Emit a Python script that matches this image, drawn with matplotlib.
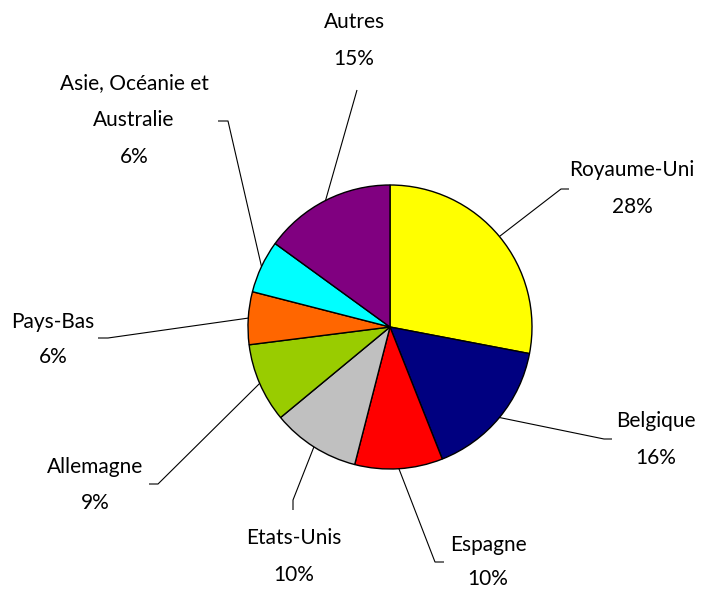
import numpy as np
import matplotlib
matplotlib.use("Agg")
import matplotlib.pyplot as plt

categories = ["Royaume-Uni", "Belgique", "Espagne", "Etats-Unis", "Allemagne",
              "Pays-Bas", "Asie, Océanie et\nAustralie", "Autres"]
values = [28, 16, 10, 10, 9, 6, 6, 15]
colors = ["#FFFF00", "#000080", "#FF0000", "#C0C0C0", "#99CC00",
          "#FF6600", "#00FFFF", "#800080"]

W, H = 708, 590
fig = plt.figure(figsize=(W / 100, H / 100), dpi=100)
ax = fig.add_axes([0, 0, 1, 1])

cx, cy, R = 390, H - 327, 142
ax.pie(values, colors=colors, startangle=90, counterclock=False,
       center=(cx, cy), radius=R,
       wedgeprops=dict(edgecolor="black", linewidth=1.0))
ax.set_xlim(0, W)
ax.set_ylim(0, H)
ax.set_aspect("equal")
ax.axis("off")

# leader layout: (elbow point, end point, label center x, label top-line y, line gap) in pixel coords
layout = [
    ((561, 189), (569, 189), 632, 170, 37),
    ((604, 439), (612, 439), 656, 421, 37),
    ((435, 562), (444, 562), 488, 545, 34),
    ((293, 500), (293, 510), 294, 538, 37),
    ((158, 484), (149, 484), 95, 467, 36),
    ((108, 338), (98, 338), 53, 322, 35),
    ((228, 121), (218, 121), 134, 83, 37),
    ((357, 90), (357, 90), 354, 22, 37),
]

font = dict(family=["Lato", "DejaVu Sans"], fontsize=15, color="black")
total = sum(values)
cum = 0
for cat, v, (elb, end, lx, ly, gap) in zip(categories, values, layout):
    mid = cum + v / 2
    cum += v
    ang = np.deg2rad(90 - 360 * mid / total)
    ax0, ay0 = cx + R * np.cos(ang), cy + R * np.sin(ang)
    ax.plot([ax0, elb[0], end[0]], [ay0, H - elb[1], H - end[1]],
            color="black", linewidth=0.8, solid_capstyle="butt")
    lines = cat.split("\n") + [f"{v}%"]
    for i, t in enumerate(lines):
        ax.text(lx, H - (ly + gap * i), t, ha="center", va="center", **font)

fig.savefig("out.png", dpi=100)
